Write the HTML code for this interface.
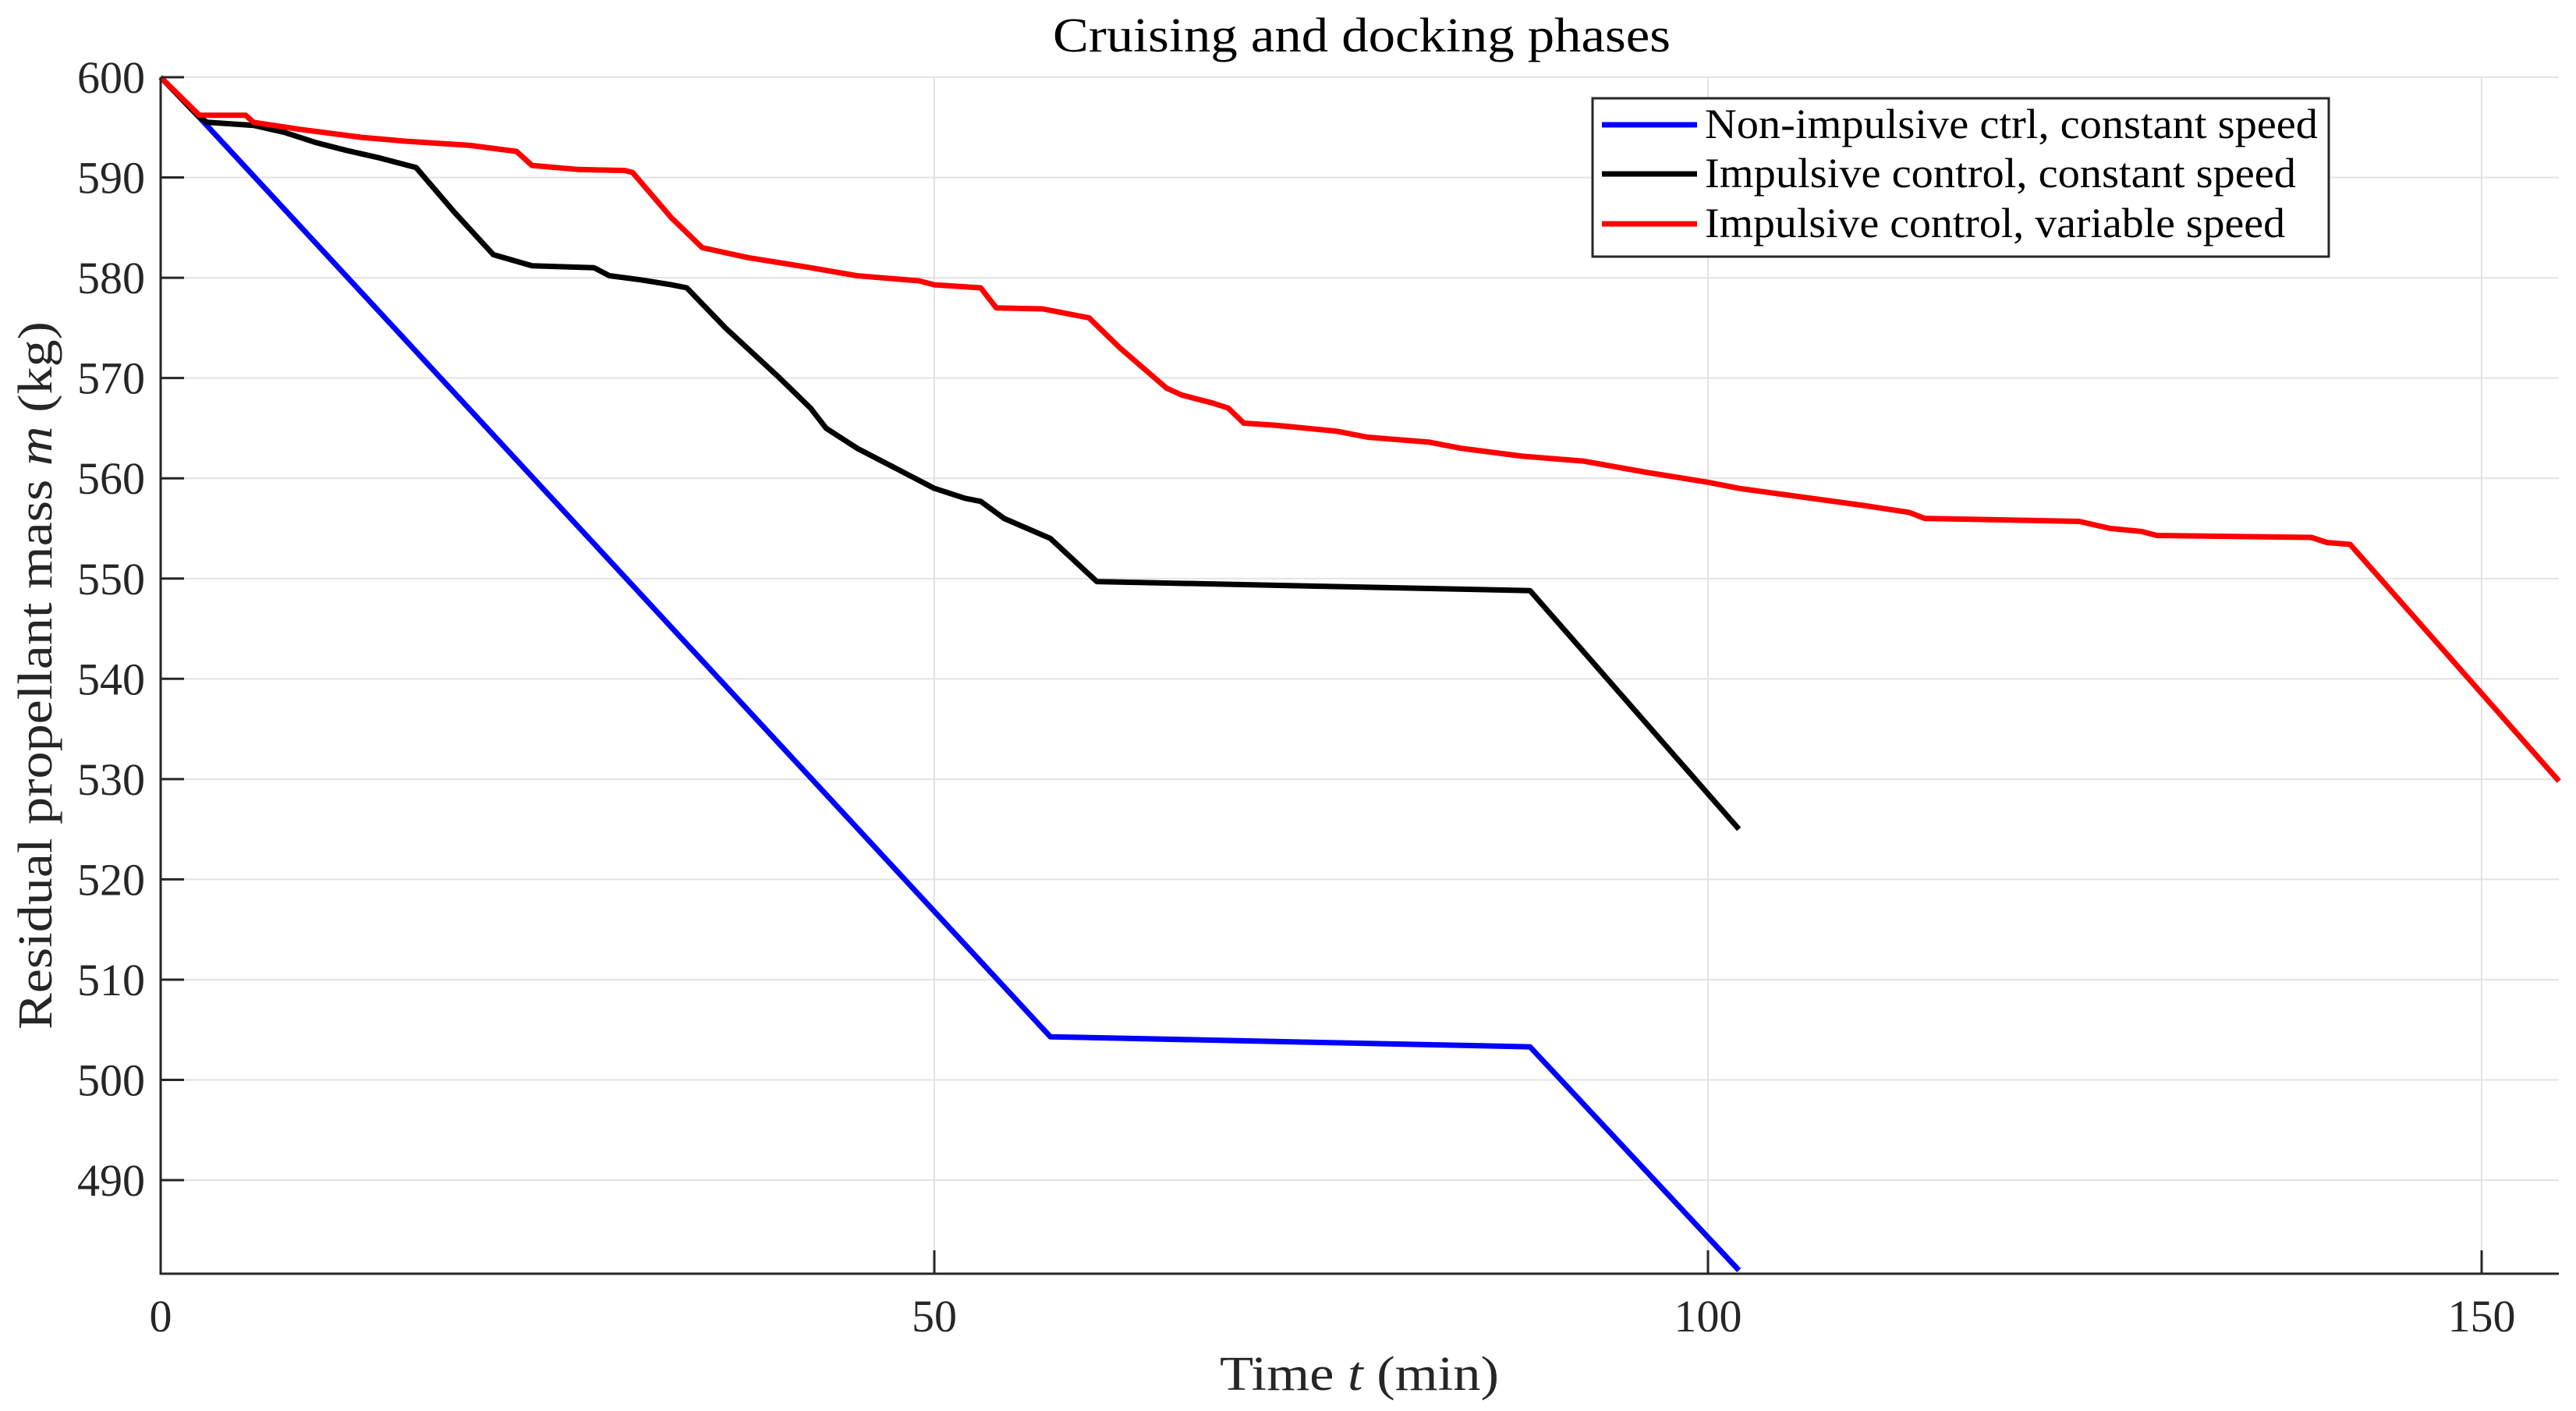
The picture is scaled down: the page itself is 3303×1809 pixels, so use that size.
<!DOCTYPE html>
<html><head><meta charset="utf-8"><style>
html,body{margin:0;padding:0;background:#fff;}
svg{display:block;font-family:"Liberation Serif",serif;}
</style></head><body>
<svg id="chart" width="3303" height="1809" viewBox="0 0 3303 1809" xmlns="http://www.w3.org/2000/svg">
<g id="grid"></g>
<g id="series"></g>
<g id="axes"></g>
<text x="1746" y="66" font-size="62" text-anchor="middle" textLength="792" lengthAdjust="spacingAndGlyphs" fill="#000">Cruising and docking phases</text>
<text x="1743" y="1782" font-size="62" text-anchor="middle" textLength="358" lengthAdjust="spacingAndGlyphs" fill="#262626">Time <tspan font-style="italic">t</tspan> (min)</text>
<text transform="translate(66,866) rotate(-90)" font-size="62" text-anchor="middle" textLength="908" lengthAdjust="spacingAndGlyphs" fill="#262626">Residual propellant mass <tspan font-style="italic">m</tspan> (kg)</text>
<g>
<rect x="2042" y="126" width="944" height="203" fill="#fff" stroke="#262626" stroke-width="3"/>
<line x1="2054" y1="160" x2="2176" y2="160" stroke="#0000ff" stroke-width="7"/>
<text x="2186" y="177" font-size="54" textLength="786" lengthAdjust="spacingAndGlyphs" fill="#000">Non-impulsive ctrl, constant speed</text>
<line x1="2054" y1="223" x2="2176" y2="223" stroke="#000" stroke-width="7"/>
<text x="2186" y="240" font-size="54" textLength="758" lengthAdjust="spacingAndGlyphs" fill="#000">Impulsive control, constant speed</text>
<line x1="2054" y1="287" x2="2176" y2="287" stroke="#ff0000" stroke-width="7"/>
<text x="2186" y="304" font-size="54" textLength="744" lengthAdjust="spacingAndGlyphs" fill="#000">Impulsive control, variable speed</text>
</g>
</svg>
<script>
const xTicks=[0,50,100,150];
const yTicks=[490,500,510,520,530,540,550,560,570,580,590,600];
const blueT=[0,2.5,57.5,88.5,102];
const blueM=[600,596,504.3,503.3,481];
const blackT=[0,2.5,3,6,8,10,12,14,16.5,19,21.5,24,28,29,31,33,34,36.5,40,42,43,45,47.5,50,52,53,54.5,57.5,60.5,88.5,102];
const blackM=[600,596,595.5,595.2,594.5,593.5,592.7,592,591,586.5,582.3,581.2,581,580.2,579.8,579.3,579,575,570,567,565,563,561,559,558,557.7,556,554,549.7,548.8,525];
const redT=[0,2.5,5.5,6,9,11,13,16,20,23,24,27,30,30.5,33,35,38,42,45,49,50,52,53,54,57,58,60,62,65,66,68,69,70,72,76,78,82,84,88,92,96,100,102,110,113,114,124,126,128,129,139,140,141.5,155];
const redM=[600,596.2,596.2,595.5,594.8,594.4,594,593.6,593.2,592.6,591.2,590.8,590.7,590.5,586,583,582,581,580.2,579.7,579.3,579.1,579,577,576.9,576.6,576,573,569,568.3,567.5,567,565.5,565.3,564.7,564.1,563.6,563,562.2,561.7,560.6,559.6,559,557.3,556.6,556,555.7,555,554.7,554.3,554.1,553.6,553.4,529.8];
const L=206,R=3281,T=99,B=1633,xMin=0,xMax=(3281-206)/19.84,yMax=600,yMin=600-(1633-99)/12.855;
const X=v=>L+(v-xMin)/(xMax-xMin)*(R-L);
const Y=v=>B-(v-yMin)/(yMax-yMin)*(B-T);
const NS="http://www.w3.org/2000/svg";
function mk(tag,attrs,parent){const e=document.createElementNS(NS,tag);for(const k in attrs)e.setAttribute(k,attrs[k]);parent.appendChild(e);return e;}
const grid=document.getElementById('grid'),axes=document.getElementById('axes'),series=document.getElementById('series');
xTicks.forEach(t=>{
  const g=mk('line',{x1:X(t),x2:X(t),y1:T,y2:B,stroke:'#e3e3e3','stroke-width':2},grid);
  
  
  const k=mk('line',{x1:X(t),x2:X(t),y1:B,y2:B-30,stroke:'#262626','stroke-width':3},axes);
  
  
  const tx=mk('text',{x:X(t),y:B+74,'font-size':58,'text-anchor':'middle',fill:'#262626'},axes);
  tx.textContent=t;
  
  
});
yTicks.forEach(t=>{
  const g=mk('line',{x1:L,x2:R,y1:Y(t),y2:Y(t),stroke:'#e3e3e3','stroke-width':2},grid);
  
  
  const k=mk('line',{x1:L,x2:L+30,y1:Y(t),y2:Y(t),stroke:'#262626','stroke-width':3},axes);
  
  
  const tx=mk('text',{x:L-20,y:Y(t)+20,'font-size':58,'text-anchor':'end',fill:'#262626'},axes);
  tx.textContent=t;
  
  
});
const ax=mk('path',{d:`M${L} ${T}V${B}H${R}`,fill:'none',stroke:'#262626','stroke-width':3},axes);


function line(ts,ms,color,name){
  const d=ts.map((t,i)=>(i?'L':'M')+X(t).toFixed(1)+' '+Y(ms[i]).toFixed(1)).join('');
  const p=mk('path',{d:d,fill:'none',stroke:color,'stroke-width':7,'stroke-linejoin':'round'},series);
  
  
}
line(blueT,blueM,'#0000ff','series-nonimpulsive-constant');
line(blackT,blackM,'#000000','series-impulsive-constant');
line(redT,redM,'#ff0000','series-impulsive-variable');
</script>
</body></html>
